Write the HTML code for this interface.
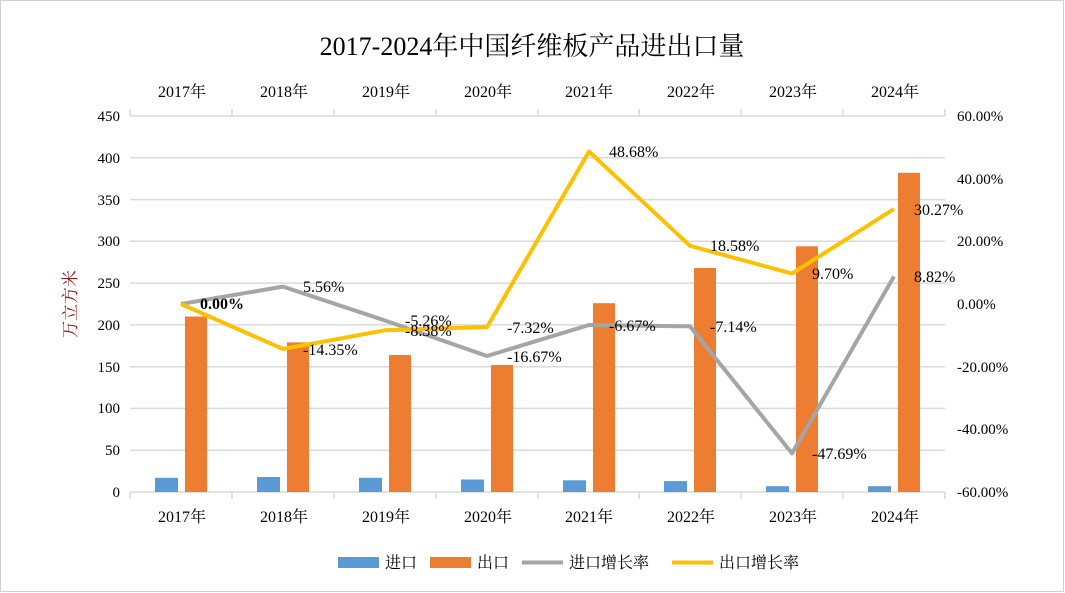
<!DOCTYPE html>
<html><head><meta charset="utf-8"><style>
html,body{margin:0;padding:0;background:#fff}
svg{display:block;font-family:"Liberation Serif","Noto Serif CJK SC",serif}
</style></head><body>
<svg width="1065" height="593" viewBox="0 0 1065 593" xmlns="http://www.w3.org/2000/svg">
<rect x="0.5" y="0.5" width="1063" height="591" fill="#fff" stroke="#d0d0d0"/>
<text x="532" y="55" font-size="26" text-anchor="middle" fill="#000">2017-2024年中国纤维板产品进出口量</text>
<g stroke="#d9d9d9" stroke-width="1.5">
<line x1="130" y1="157.8" x2="945" y2="157.8"/>
<line x1="130" y1="199.6" x2="945" y2="199.6"/>
<line x1="130" y1="241.3" x2="945" y2="241.3"/>
<line x1="130" y1="283.1" x2="945" y2="283.1"/>
<line x1="130" y1="324.9" x2="945" y2="324.9"/>
<line x1="130" y1="366.7" x2="945" y2="366.7"/>
<line x1="130" y1="408.4" x2="945" y2="408.4"/>
<line x1="130" y1="450.2" x2="945" y2="450.2"/>
<line x1="130" y1="116" x2="945" y2="116"/>
<line x1="130" y1="492" x2="945" y2="492"/>
</g>
<g stroke="#d9d9d9" stroke-width="1.5">
<line x1="130" y1="109" x2="130" y2="116"/><line x1="232" y1="109" x2="232" y2="116"/><line x1="334" y1="109" x2="334" y2="116"/><line x1="436" y1="109" x2="436" y2="116"/><line x1="538" y1="109" x2="538" y2="116"/><line x1="639" y1="109" x2="639" y2="116"/><line x1="741" y1="109" x2="741" y2="116"/><line x1="843" y1="109" x2="843" y2="116"/><line x1="945" y1="109" x2="945" y2="116"/>
<line x1="130" y1="492" x2="130" y2="499"/><line x1="232" y1="492" x2="232" y2="499"/><line x1="334" y1="492" x2="334" y2="499"/><line x1="436" y1="492" x2="436" y2="499"/><line x1="538" y1="492" x2="538" y2="499"/><line x1="639" y1="492" x2="639" y2="499"/><line x1="741" y1="492" x2="741" y2="499"/><line x1="843" y1="492" x2="843" y2="499"/><line x1="945" y1="492" x2="945" y2="499"/>
</g>
<g fill="#5b9bd5">
<rect x="155" y="477.8" width="23" height="14.2"/>
<rect x="257" y="477" width="23" height="15"/>
<rect x="359" y="477.8" width="23" height="14.2"/>
<rect x="461" y="479.5" width="23" height="12.5"/>
<rect x="563" y="480.3" width="23" height="11.7"/>
<rect x="664" y="481.1" width="23" height="10.9"/>
<rect x="766" y="486.2" width="23" height="5.8"/>
<rect x="868" y="486.2" width="23" height="5.8"/>
</g>
<g fill="#ed7d31">
<rect x="185" y="316.5" width="22" height="175.5"/>
<rect x="287" y="342.4" width="22" height="149.6"/>
<rect x="389" y="355" width="22" height="137"/>
<rect x="491" y="365" width="22" height="127"/>
<rect x="593" y="303.2" width="22" height="188.8"/>
<rect x="694" y="268" width="22" height="224"/>
<rect x="796" y="246.3" width="22" height="245.7"/>
<rect x="898" y="172.8" width="22" height="319.2"/>
</g>
<polyline fill="none" stroke="#a5a5a5" stroke-width="4" stroke-linejoin="round" points="181,304 283,286.6 385,320.5 487,356 589,325 690,326.4 792,453.4 894,276.4"/>
<polyline fill="none" stroke="#ffc000" stroke-width="4" stroke-linejoin="round" points="181,304 283,349 385,330.3 487,327 589,151.5 690,245.8 792,273.6 894,209"/>
<g font-size="16" fill="#000">
<text x="200" y="309" font-weight="bold">0.00%</text>
<text x="303" y="292">5.56%</text>
<text x="405" y="326">-5.26%</text>
<text x="507" y="362">-16.67%</text>
<text x="609" y="331">-6.67%</text>
<text x="710" y="332">-7.14%</text>
<text x="812" y="459">-47.69%</text>
<text x="914" y="282">8.82%</text>
<text x="303" y="355">-14.35%</text>
<text x="405" y="336">-8.38%</text>
<text x="507" y="333">-7.32%</text>
<text x="609" y="157">48.68%</text>
<text x="710" y="251">18.58%</text>
<text x="812" y="279">9.70%</text>
<text x="914" y="215">30.27%</text>
</g>
<g font-size="15" fill="#000" text-anchor="end">
<text x="120" y="121">450</text><text x="120" y="163">400</text><text x="120" y="205">350</text><text x="120" y="246">300</text><text x="120" y="288">250</text><text x="120" y="330">200</text><text x="120" y="372">150</text><text x="120" y="413">100</text><text x="120" y="455">50</text><text x="120" y="497">0</text>
</g>
<g font-size="15" fill="#000">
<text x="957" y="121">60.00%</text><text x="957" y="184">40.00%</text><text x="957" y="246">20.00%</text><text x="957" y="309">0.00%</text><text x="957" y="372">-20.00%</text><text x="957" y="434">-40.00%</text><text x="957" y="497">-60.00%</text>
</g>
<g font-size="16" fill="#000" text-anchor="middle">
<text x="182" y="97">2017年</text><text x="284" y="97">2018年</text><text x="386" y="97">2019年</text><text x="488" y="97">2020年</text><text x="589" y="97">2021年</text><text x="691" y="97">2022年</text><text x="793" y="97">2023年</text><text x="895" y="97">2024年</text>
<text x="182" y="522">2017年</text><text x="284" y="522">2018年</text><text x="386" y="522">2019年</text><text x="488" y="522">2020年</text><text x="589" y="522">2021年</text><text x="691" y="522">2022年</text><text x="793" y="522">2023年</text><text x="895" y="522">2024年</text>
</g>
<text transform="translate(76,304) rotate(-90)" font-size="17" fill="#8b1a1a" text-anchor="middle">万立方米</text>
<g font-size="16" fill="#000">
<rect x="338" y="557" width="41" height="11" fill="#5b9bd5"/><text x="385" y="568">进口</text>
<rect x="430" y="557" width="41" height="11" fill="#ed7d31"/><text x="477" y="568">出口</text>
<line x1="522" y1="562.5" x2="563" y2="562.5" stroke="#a5a5a5" stroke-width="4"/><text x="569" y="568">进口增长率</text>
<line x1="672" y1="562.5" x2="713" y2="562.5" stroke="#ffc000" stroke-width="4"/><text x="719" y="568">出口增长率</text>
</g>
</svg>
</body></html>
